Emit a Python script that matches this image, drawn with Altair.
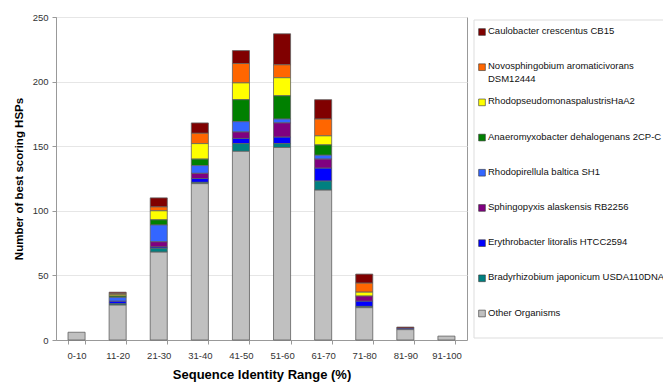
import altair as alt
import pandas as pd

categories = ["0-10", "11-20", "21-30", "31-40", "41-50", "51-60", "61-70", "71-80", "81-90", "91-100"]

# legend order (top to bottom)
organisms = [
    "Caulobacter crescentus CB15",
    "Novosphingobium aromaticivorans DSM12444",
    "RhodopseudomonaspalustrisHaA2",
    "Anaeromyxobacter dehalogenans 2CP-C",
    "Rhodopirellula baltica SH1",
    "Sphingopyxis alaskensis RB2256",
    "Erythrobacter litoralis HTCC2594",
    "Bradyrhizobium japonicum USDA110DNA",
    "Other Organisms",
]
legend_labels = [
    "Caulobacter crescentus CB15",
    "Novosphingobium aromaticivorans\nDSM12444",
    "RhodopseudomonaspalustrisHaA2",
    "Anaeromyxobacter dehalogenans 2CP-C",
    "Rhodopirellula baltica SH1",
    "Sphingopyxis alaskensis RB2256",
    "Erythrobacter litoralis HTCC2594",
    "Bradyrhizobium japonicum USDA110DNA",
    "Other Organisms",
]
colors = ["#800000", "#FF6600", "#FFFF00", "#008000", "#3366FF",
          "#800080", "#0000FF", "#008080", "#C0C0C0"]

caulobacter =    [0, 1, 7, 8, 10, 24, 15, 7, 1, 0]
novosphingobium = [0, 1, 3, 8, 15, 10, 13, 7, 0, 0]
rhodopseudo =    [0, 1, 7, 12, 13, 14, 7, 3, 0, 0]
anaeromyxo =     [0, 1, 4, 5, 17, 18, 8, 0, 0, 0]
rhodopirellula = [0, 3, 13, 6, 8, 3, 3, 0, 0, 0]
sphingopyxis =   [0, 0, 4, 4, 5, 11, 7, 4, 0, 0]
erythrobacter =  [0, 2, 1, 3, 4, 5, 10, 4, 1, 0]
bradyrhizobium = [0, 1, 3, 1, 6, 3, 7, 1, 0, 0]
other =          [6, 27, 68, 121, 146, 149, 116, 25, 8, 3]

series = [caulobacter, novosphingobium, rhodopseudo, anaeromyxo, rhodopirellula,
          sphingopyxis, erythrobacter, bradyrhizobium, other]

rows = []
for k, (org, vals) in enumerate(zip(organisms, series)):
    for cat, v in zip(categories, vals):
        if v > 0:
            rows.append({"range": cat, "organism": org, "count": v, "stack": len(organisms) - 1 - k})
df = pd.DataFrame(rows)

color_scale = alt.Scale(domain=organisms, range=colors)
PW, PH = 411, 323

bars = alt.Chart(df).mark_bar(stroke="#606060", strokeWidth=0.8).encode(
    x=alt.X("range:N", sort=categories,
            scale=alt.Scale(paddingInner=0.585, paddingOuter=0.2925),
            axis=alt.Axis(title="Sequence Identity Range (%)", labelAngle=0, tickBand="extent",
                          tickSize=4, labelPadding=6, grid=False, domainColor="#999999",
                          tickColor="#999999", labelFontSize=9.5, labelColor="#333333",
                          titleFontSize=13, titleFontWeight="bold", titlePadding=9,
                          titleColor="#000000")),
    y=alt.Y("count:Q", stack="zero", scale=alt.Scale(domain=[0, 250], nice=False),
            axis=alt.Axis(title="Number of best scoring HSPs", values=[0, 50, 100, 150, 200, 250],
                          tickSize=4, labelPadding=4, grid=True, gridColor="#e6e6e6",
                          domainColor="#999999", tickColor="#999999", labelFontSize=9.5,
                          labelColor="#333333", titleFontSize=11.5, titleFontWeight="bold",
                          titlePadding=8, titleColor="#000000")),
    color=alt.Color("organism:N", scale=color_scale, legend=None),
    order=alt.Order("stack:Q", sort="ascending"),
)

leg_df = pd.DataFrame({"organism": organisms, "label": legend_labels})
LX = PW + 7  # legend box left edge, relative to plot
leg_y = alt.Y("organism:N", sort=organisms,
              scale=alt.Scale(type="point", range=[15, 296.5], padding=0), axis=None)

box = alt.Chart(pd.DataFrame({"b": [0]})).mark_rect(fill="white", stroke="#dddddd", strokeWidth=1).encode(
    x=alt.value(LX), x2=alt.value(LX + 240), y=alt.value(3), y2=alt.value(321)
)
sym = alt.Chart(leg_df).mark_square(size=45, stroke="#333333", strokeWidth=0.6, opacity=1).encode(
    x=alt.value(LX + 8), y=leg_y,
    color=alt.Color("organism:N", scale=color_scale, legend=None),
)
txt = alt.Chart(leg_df).mark_text(align="left", baseline="top", dy=-6, fontSize=9.5,
                                  lineBreak="\n", lineHeight=12.6, color="#111111").encode(
    x=alt.value(LX + 14), y=leg_y, text="label:N"
)

chart = alt.layer(bars, box, sym, txt).resolve_scale(y="independent").properties(
    width=PW, height=PH,
    autosize=alt.AutoSizeParams(type="none"),
    padding={"left": 48, "top": 9, "right": 196, "bottom": 43},
    view=alt.ViewBackground(stroke="#999999", strokeWidth=1),
).configure(font="Liberation Sans")

chart.save("out.html", embed_options={"renderer": "svg", "actions": False})
